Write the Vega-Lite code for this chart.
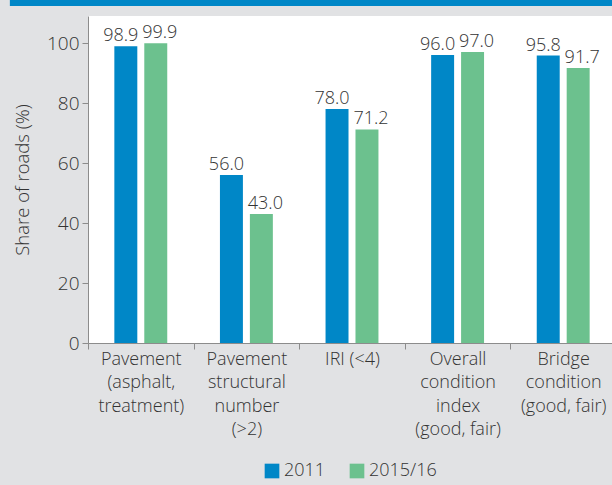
{
  "$schema": "https://vega.github.io/schema/vega-lite/v6.json",
  "width": 528,
  "height": 327,
  "autosize": {"type": "none"},
  "padding": {"left": 88, "top": 16, "right": 0, "bottom": 142},
  "background": "#e1e2e4",
  "config": {
    "view": {"fill": "white", "stroke": null},
    "font": "Open Sans",
    "text": {"font": "Open Sans", "fontWeight": 300},
    "axis": {"labelFont": "Open Sans", "titleFont": "Open Sans", "labelFontWeight": 300, "titleFontWeight": 300, "labelColor": "#333333", "titleColor": "#333333", "domainColor": "#8c8c8c", "tickColor": "#8c8c8c"},
    "legend": {"labelFont": "Open Sans", "labelFontWeight": 300}
  },
  "datasets": {
    "roads": [
      {"category": "Pavement|(asphalt,|treatment)", "year": "2011", "share": 98.9},
      {"category": "Pavement|(asphalt,|treatment)", "year": "2015/16", "share": 99.9},
      {"category": "Pavement|structural|number|(>2)", "year": "2011", "share": 56.0},
      {"category": "Pavement|structural|number|(>2)", "year": "2015/16", "share": 43.0},
      {"category": "IRI (<4)", "year": "2011", "share": 78.0},
      {"category": "IRI (<4)", "year": "2015/16", "share": 71.2},
      {"category": "Overall|condition|index|(good, fair)", "year": "2011", "share": 96.0},
      {"category": "Overall|condition|index|(good, fair)", "year": "2015/16", "share": 97.0},
      {"category": "Bridge|condition|(good, fair)", "year": "2011", "share": 95.8},
      {"category": "Bridge|condition|(good, fair)", "year": "2015/16", "share": 91.7}
    ],
    "band": [{"x0": -0.148, "x1": 1.0, "y0": 112.3, "y1": 115}]
  },
  "resolve": {"scale": {"x": "independent"}},
  "layer": [
    {
      "data": {"name": "band"},
      "mark": {"type": "rect", "color": "#0087c7", "clip": false},
      "encoding": {
        "x": {"field": "x0", "type": "quantitative", "scale": {"domain": [0, 1], "nice": false, "zero": false}, "axis": null},
        "x2": {"field": "x1"},
        "y": {"field": "y0", "type": "quantitative", "scale": {"domain": [0, 109], "nice": false}},
        "y2": {"field": "y1"}
      }
    },
    {
      "data": {"name": "roads"},
      "encoding": {
        "x": {
          "field": "category", "type": "nominal", "sort": null,
          "scale": {"paddingInner": 0, "paddingOuter": 0},
          "axis": {"title": null, "labelAngle": 0, "labelExpr": "isValid(datum.value) ? split(datum.value, '|') : ''", "labelFontSize": 18, "labelLineHeight": 23.5, "labelBaseline": "top", "labelPadding": 1, "tickBand": "extent", "tickSize": 6}
        },
        "xOffset": {"field": "year", "type": "nominal", "scale": {"paddingInner": 0.233, "paddingOuter": 0.88}},
        "y": {
          "field": "share", "type": "quantitative",
          "scale": {"domain": [0, 109], "nice": false},
          "axis": {"title": "Share of roads (%)", "values": [0, 20, 40, 60, 80, 100], "grid": false, "labelFontSize": 19, "titleFontSize": 18.5, "tickSize": 6, "labelPadding": 3, "titlePadding": 14}
        }
      },
      "layer": [
        {
          "mark": {"type": "bar"},
          "encoding": {
            "color": {
              "field": "year", "type": "nominal",
              "scale": {"domain": ["2011", "2015/16"], "range": ["#0087c7", "#6cc18e"]},
              "legend": {"title": null, "orient": "none", "legendX": 175, "legendY": 446, "direction": "horizontal", "symbolType": "square", "symbolSize": 215, "symbolStrokeWidth": 0, "symbolOpacity": 1, "labelFontSize": 18, "labelColor": "#333333", "columnPadding": 22, "labelOffset": 3}
            }
          }
        },
        {
          "transform": [{"filter": "datum.year == '2011'"}],
          "mark": {"type": "text", "baseline": "bottom", "dy": -1, "dx": -5, "fontSize": 18, "color": "#333333"},
          "encoding": {"text": {"field": "share", "type": "quantitative", "format": ".1f"}}
        },
        {
          "transform": [{"filter": "datum.year == '2015/16'"}],
          "mark": {"type": "text", "baseline": "bottom", "dy": -1, "dx": 4, "fontSize": 18, "color": "#333333"},
          "encoding": {"text": {"field": "share", "type": "quantitative", "format": ".1f"}}
        }
      ]
    }
  ]
}
